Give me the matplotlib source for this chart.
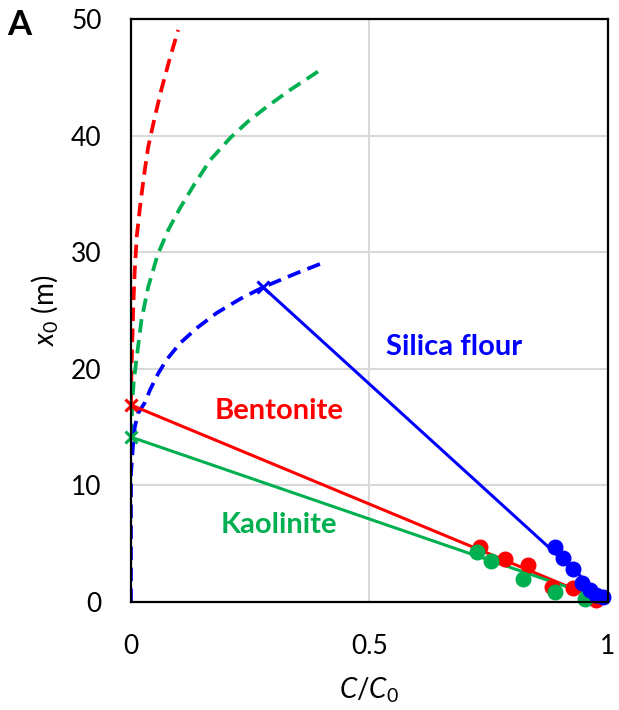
import matplotlib
matplotlib.use("Agg")
import matplotlib.pyplot as plt

plt.rcParams['font.family'] = ['Lato', 'DejaVu Sans']
plt.rcParams['mathtext.fontset'] = 'custom'
plt.rcParams['mathtext.rm'] = 'Lato'
plt.rcParams['mathtext.it'] = 'Lato:italic'

# dashed model curves (C/C0, x0)
red_dash_c = [0, 0.001, 0.003, 0.005, 0.008, 0.012, 0.019, 0.027, 0.036, 0.050, 0.064, 0.082, 0.099]
red_dash_x = [16.9, 19.8, 22.75, 25.6, 28.5, 31.3, 33.9, 36.5, 39.0, 41.6, 44.0, 46.7, 49.06]
green_dash_c = [0, 0.0035, 0.006, 0.013, 0.022, 0.036, 0.056, 0.078, 0.103, 0.131, 0.166,
                0.208, 0.245, 0.284, 0.333, 0.396]
green_dash_x = [14.15, 17.6, 19.0, 21.3, 24.2, 27.0, 29.8, 31.9, 33.8, 35.7, 37.9,
                39.8, 41.2, 42.45, 43.9, 45.6]
blue_dash_c = [0, 0, 0.004, 0.008, 0.015, 0.029, 0.040, 0.057, 0.075, 0.103, 0.138,
               0.180, 0.229, 0.277, 0.347, 0.403]
blue_dash_x = [0, 11.0, 13.3, 15.0, 16.2, 17.1, 18.2, 19.6, 20.8, 22.2, 23.5,
               24.8, 26.0, 27.0, 28.2, 29.1]

# solid fit lines
red_line_c = [0, 0.93]
red_line_x = [16.9, 1.1]
green_line_c = [0, 0.95]
green_line_x = [14.15, 0.8]
blue_line_c = [0.277, 0.997]
blue_line_x = [27.0, 0.2]

# measured points
red_pts_c = [0.732, 0.784, 0.833, 0.882, 0.927, 0.976]
red_pts_x = [4.74, 3.66, 3.17, 1.31, 1.2, 0.17]
green_pts_c = [0.725, 0.756, 0.822, 0.889, 0.952]
green_pts_x = [4.3, 3.55, 1.94, 0.89, 0.3]
blue_pts_c = [0.889, 0.906, 0.927, 0.945, 0.962, 0.976, 0.99]
blue_pts_x = [4.74, 3.74, 2.8, 1.6, 1.03, 0.6, 0.45]

RED = '#ff0000'
GREEN = '#00b050'
BLUE = '#0000ff'

fig = plt.figure(figsize=(6.19, 7.10), dpi=100)
ax = fig.add_axes([0.2116, 0.152, 0.7704, 0.8212])

dash = (0, (3.6, 2.0))
ax.plot(red_dash_c, red_dash_x, color=RED, lw=2.7, linestyle=dash)
ax.plot(green_dash_c, green_dash_x, color=GREEN, lw=2.7, linestyle=dash)
ax.plot(blue_dash_c, blue_dash_x, color=BLUE, lw=2.7, linestyle=dash)

ax.plot(red_line_c, red_line_x, color=RED, lw=2.2)
ax.plot(green_line_c, green_line_x, color=GREEN, lw=2.2)
ax.plot(blue_line_c, blue_line_x, color=BLUE, lw=2.2)

ax.plot(red_pts_c, red_pts_x, 'o', color=RED, ms=10.5, clip_on=False)
ax.plot(green_pts_c, green_pts_x, 'o', color=GREEN, ms=10.5, clip_on=False)
ax.plot(blue_pts_c, blue_pts_x, 'o', color=BLUE, ms=10.5, clip_on=False)

ax.plot(red_line_c[0], red_line_x[0], 'x', color=RED, ms=8, mew=2.2, clip_on=False)
ax.plot(green_line_c[0], green_line_x[0], 'x', color=GREEN, ms=8, mew=2.2, clip_on=False)
ax.plot(blue_line_c[0], blue_line_x[0], 'x', color=BLUE, ms=8, mew=2.2, clip_on=False)

ax.text(0.677, 21.9, 'Silica flour', color=BLUE, fontsize=21, fontweight='bold',
        ha='center', va='center')
ax.text(0.31, 16.4, 'Bentonite', color=RED, fontsize=21, fontweight='bold',
        ha='center', va='center')
ax.text(0.311, 6.6, 'Kaolinite', color=GREEN, fontsize=21, fontweight='bold',
        ha='center', va='center')

ax.set_xlim(0, 1)
ax.set_ylim(0, 50)
ax.set_xticks([0, 0.5, 1])
ax.set_xticklabels(['0', '0.5', '1'])
ax.set_yticks([0, 10, 20, 30, 40, 50])
ax.tick_params(length=0, labelsize=19)
ax.tick_params(axis='x', pad=23)
ax.tick_params(axis='y', pad=21)
ax.grid(True, color='#d9d9d9', lw=1.5)
ax.set_axisbelow(True)
for s in ax.spines.values():
    s.set_linewidth(1.6)
    s.set_color('black')

ax.set_xlabel(r'$C/C_0$', fontsize=20, labelpad=12)
ax.set_ylabel(r'$x_0$ (m)', fontsize=20, labelpad=8)

fig.text(0.012, 0.965, 'A', fontsize=25, fontweight='bold', va='center')

fig.savefig('out.png', dpi=100)
